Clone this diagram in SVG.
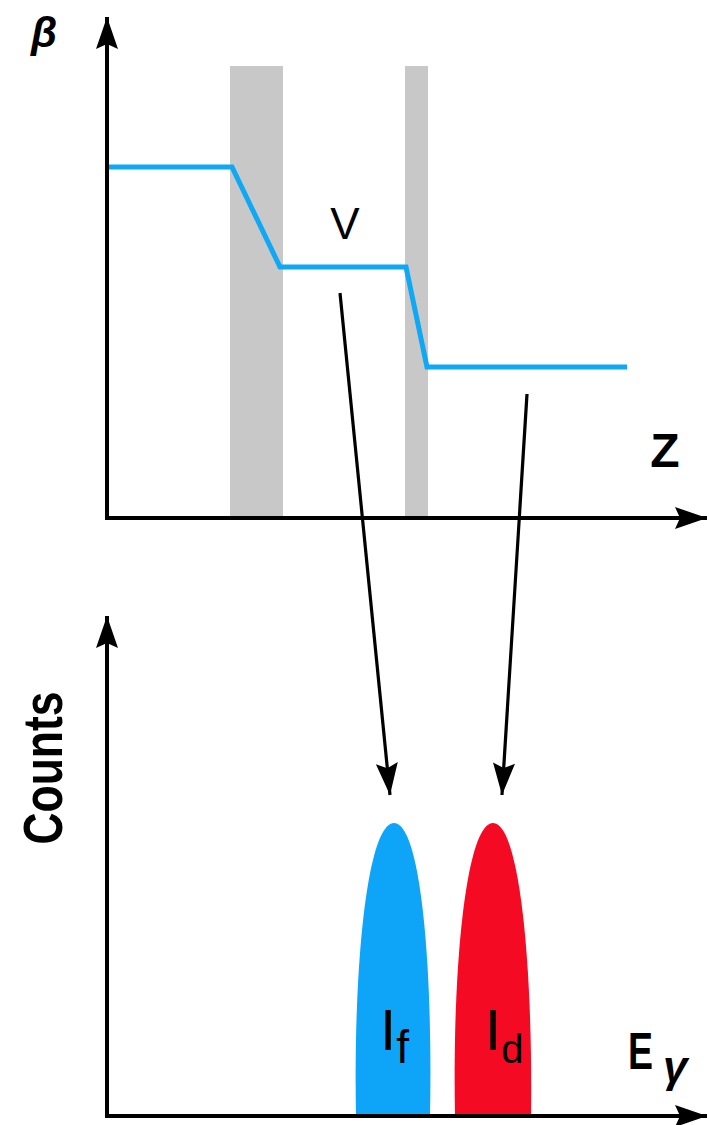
<svg xmlns="http://www.w3.org/2000/svg" width="709" height="1125" viewBox="0 0 709 1125">
<style>
.axis{stroke:#000;stroke-width:4;fill:none}
.arr{stroke:#000;stroke-width:3.2;fill:none}
.band{fill:#C8C8C8}
</style>
<defs>
<marker id="ah" markerUnits="userSpaceOnUse" markerWidth="40" markerHeight="30" viewBox="-34 -15 40 30" refX="0" refY="0" orient="auto" overflow="visible">
<path d="M0,0 L-32,-11 L-27,0 L-32,11 Z" fill="#000"/>
</marker>
</defs>
<rect width="709" height="1125" fill="#fff"/>
<g id="bands">
<rect class="band" x="230" y="66" width="53" height="452"/>
<rect class="band" x="405" y="66" width="23" height="452"/>
</g>
<g id="curve">
<polyline points="105,167 232,167 280,267 406,267 427,367 627,367" fill="none" stroke="#0EA8F5" stroke-width="5"/>
</g>
<g id="peaks">
<path d="M356,1117 C353,960 368,823 394,823 C420,823 433,960 430,1117 Z" fill="#0EA5F8"/>
<path d="M455,1117 C452,960 467,823 493,823 C519,823 533,960 531,1117 Z" fill="#F50A24"/>
</g>
<g id="connectors">
<line class="axis" x1="107" y1="518" x2="107" y2="17" marker-end="url(#ah)"/>
<line class="axis" x1="105" y1="518" x2="707" y2="518" marker-end="url(#ah)"/>
<line class="axis" x1="107" y1="1118" x2="107" y2="616" marker-end="url(#ah)"/>
<line class="axis" x1="105" y1="1116" x2="707" y2="1116" marker-end="url(#ah)"/>
<line class="arr" x1="340" y1="293" x2="390" y2="795" marker-end="url(#ah)"/>
<line class="arr" x1="527" y1="394" x2="502" y2="795" marker-end="url(#ah)"/>
</g>
<g id="labels" font-family="'Liberation Sans', Arial, sans-serif" fill="#000">
<text x="31" y="47" font-size="42" font-weight="bold" font-style="italic">β</text>
<text x="345" y="239" font-size="44" text-anchor="middle">V</text>
<text x="665" y="467" font-size="48" font-weight="bold" text-anchor="middle">Z</text>
<text transform="translate(62,768) rotate(-90)" font-size="55" font-weight="bold" text-anchor="middle" textLength="153" lengthAdjust="spacingAndGlyphs">Counts</text>
<text x="380" y="1050" font-size="58">I<tspan font-size="46" dy="13">f</tspan></text>
<text x="485" y="1050" font-size="58">I<tspan font-size="40" dy="13">d</tspan></text>
<text x="628" y="1069" font-size="52" font-weight="bold" textLength="25" lengthAdjust="spacingAndGlyphs">E</text>
<text x="663" y="1082" font-size="44" font-weight="bold" font-style="italic">γ</text>
</g>
</svg>
